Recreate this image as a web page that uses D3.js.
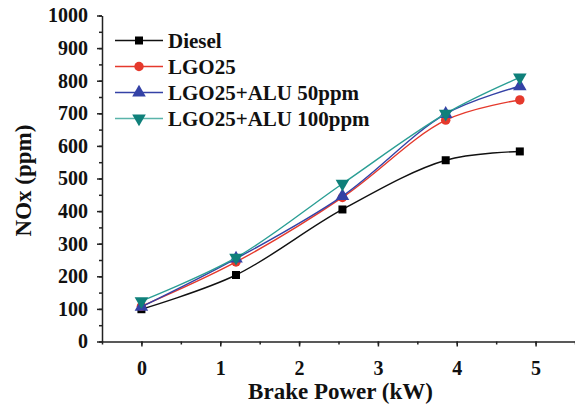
<!DOCTYPE html>
<html>
<head>
<meta charset="utf-8">
<script src="https://cdn.jsdelivr.net/npm/d3@7"></script>
<style>
  body { margin: 0; background: #fff; }
  text { font-family: "Liberation Serif", "Times New Roman", serif; font-weight: bold; fill: #111; }
</style>
</head>
<body>
<script>
var w = 575;
var h = 408;

// brake power (kW)
var power = [0, 1.2, 2.55, 3.86, 4.8];

// NOx (ppm) per fuel
var diesel = [99, 204, 405, 556, 583];
var lgo25 = [108, 244, 442, 679, 741];
var alu50 = [106, 254, 446, 698, 783];
var alu100 = [124, 257, 484, 699, 810];

var seriesNames = ["Diesel", "LGO25", "LGO25+ALU 50ppm", "LGO25+ALU 100ppm"];
var seriesValues = [diesel, lgo25, alu50, alu100];
var lineColors = ["#111", "#e5392c", "#3442a6", "#2a9e94"];
var markColors = ["#000", "#e5392c", "#3442a6", "#0f807a"];
var symbols = [d3.symbolSquare, d3.symbolCircle, d3.symbolTriangle, d3.symbolTriangle];

var xTicks = [0, 1, 2, 3, 4, 5];
var yTicks = [0, 100, 200, 300, 400, 500, 600, 700, 800, 900, 1000];

var margin = { left: 102, top: 15.5, right: 0, bottom: 66.5 };

var svg = d3.select("body")
  .append("svg")
  .attr("width", w)
  .attr("height", h);

var x = d3.scaleLinear()
  .domain([-0.5, 5.5])
  .range([margin.left, w - margin.right]);

var y = d3.scaleLinear()
  .domain([0, 1000])
  .range([h - margin.bottom, margin.top]);

// minor ticks first, then major ticks with labels
svg.append("g")
  .attr("transform", "translate(0," + y(0) + ")")
  .call(d3.axisBottom(x).tickValues(d3.range(-0.5, 5.51, 0.5)).tickSize(3).tickFormat(""))
  .call(g => g.select(".domain").remove());

var xAxis = svg.append("g")
  .attr("transform", "translate(0," + y(0) + ")")
  .call(d3.axisBottom(x).tickValues(xTicks).tickSize(5).tickSizeOuter(0).tickPadding(10).tickFormat(d3.format("d")));

svg.append("g")
  .attr("transform", "translate(" + x(-0.5) + ",0)")
  .call(d3.axisLeft(y).tickValues(d3.range(0, 1001, 50)).tickSize(3).tickFormat(""))
  .call(g => g.select(".domain").remove());

var yAxis = svg.append("g")
  .attr("transform", "translate(" + x(-0.5) + ",0)")
  .call(d3.axisLeft(y).tickValues(yTicks).tickSize(5).tickSizeOuter(0).tickPadding(9).tickFormat(d3.format("d")));

svg.selectAll(".domain, .tick line")
  .attr("stroke", "#222")
  .attr("stroke-width", 1.5);

xAxis.selectAll("text").style("font-size", "20px").attr("dy", "0.9em");
yAxis.selectAll("text").style("font-size", "20px");

// axis titles
svg.append("text")
  .attr("x", (x(-0.5) + x(5.5)) / 2 + 2)
  .attr("y", 399)
  .attr("text-anchor", "middle")
  .style("font-size", "23px")
  .text("Brake Power (kW)");

svg.append("text")
  .attr("transform", "translate(31," + (y(500) + 2) + ") rotate(-90)")
  .attr("text-anchor", "middle")
  .style("font-size", "23px")
  .text("NOx (ppm)");

var line = d3.line()
  .x(function(d, i) { return x(power[i]); })
  .y(function(d) { return y(d); })
  .curve(d3.curveCatmullRom.alpha(0.5));

var sym = d3.symbol();

function symPath(i) {
  var size = [64, 70, 80, 80][i];
  return sym.type(symbols[i]).size(size)();
}

seriesValues.forEach(function(vals, i) {
  svg.append("path")
    .attr("d", line(vals))
    .attr("fill", "none")
    .attr("stroke", lineColors[i])
    .attr("stroke-width", 1.4);

  svg.selectAll(".m" + i)
    .data(vals)
    .enter()
    .append("path")
    .attr("class", "m" + i)
    .attr("d", symPath(i))
    .attr("transform", function(d, j) {
      return "translate(" + x(power[j]) + "," + y(d) + ")" + (i == 3 ? " rotate(180)" : "");
    })
    .attr("fill", markColors[i]);
});

// legend
var legend = svg.append("g");
var rows = legend.selectAll("g")
  .data(seriesNames)
  .enter()
  .append("g")
  .attr("transform", function(d, i) { return "translate(0," + (40.5 + i * 26) + ")"; });

rows.append("line")
  .attr("x1", 115)
  .attr("x2", 163)
  .attr("stroke", function(d, i) { return i == 3 ? "#5ab4aa" : lineColors[i]; })
  .attr("stroke-width", 1.4);

rows.append("path")
  .attr("d", function(d, i) { return symPath(i); })
  .attr("transform", function(d, i) { return "translate(139,0)" + (i == 3 ? " rotate(180)" : ""); })
  .attr("fill", function(d, i) { return markColors[i]; });

rows.append("text")
  .attr("x", 168)
  .attr("dy", "0.35em")
  .style("font-size", "21px")
  .text(function(d) { return d; });
</script>
</body>
</html>
